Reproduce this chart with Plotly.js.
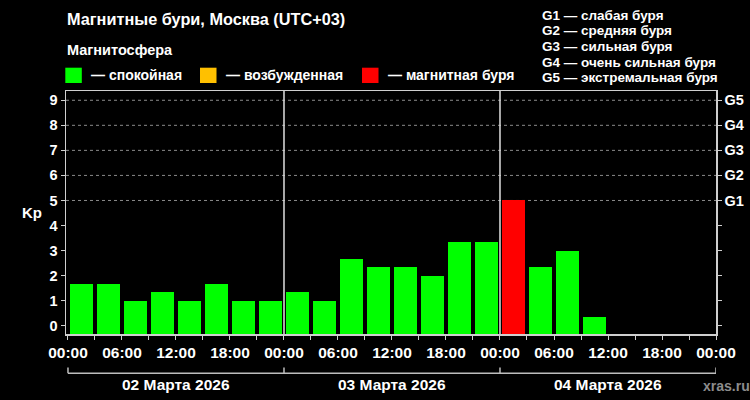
<!DOCTYPE html>
<html>
<head>
<meta charset="utf-8">
<script src="https://cdn.plot.ly/plotly-3.0.1.min.js"></script>
<style>html,body{margin:0;padding:0;background:#000;}#chart{width:750px;height:400px;}</style>
</head>
<body>
<div id="chart"></div>
<script>
// ---- data ----
const dayLabels = ['02 Марта 2026', '03 Марта 2026', '04 Марта 2026'];
const dayStartHours = [0, 24, 48, 72];
const slotStartHours = [0,3,6,9,12,15,18,21, 24,27,30,33,36,39,42,45, 48,51,54,57];
const kpValues = [1.67,1.67,1,1.33,1,1.67,1,1, 1.33,1,2.67,2.33,2.33,2,3.33,3.33, 5,2.33,3,0.33];
const hourTickVals = [0,3,6,9,12,15,18,21,24,27,30,33,36,39,42,45,48,51,54,57,60,63,66,69,72];
const hourTickText = ['00:00','','06:00','','12:00','','18:00','','00:00','','06:00','','12:00','','18:00','','00:00','','06:00','','12:00','','18:00','','00:00'];
const kpTicks = [0,1,2,3,4,5,6,7,8,9];
const stormLevels = ['G1','G2','G3','G4','G5'];
const stormKp = [5,6,7,8,9];
const stormDesc = ['слабая буря','средняя буря','сильная буря','очень сильная буря','экстремальная буря'];
const stateNames = ['спокойная','возбужденная','магнитная буря'];
const stateColors = ['#00ff00','#ffc000','#ff0000'];

// ---- layout helpers ----
const M = {l:66, r:34, t:91, b:66};
const W = 750, H = 400;
const PW = W - M.l - M.r, PH = H - M.t - M.b;
const px = p => (p - M.l) / PW;
const py = p => (H - M.b - p) / PH;
const yMin = -0.33, yMax = 9.37;
const boldFont = (size, color) => ({family: 'Liberation Sans, Arial, sans-serif', size: size, color: color || '#ffffff', weight: 700});

const barColors = kpValues.map(v => v >= 5 ? stateColors[2] : (v >= 4 ? stateColors[1] : stateColors[0]));

const traces = [
  {
    type: 'bar',
    x: slotStartHours.map(h => h + 1.5),
    y: kpValues.map(v => v - yMin),
    base: yMin,
    width: 2.64,
    marker: {color: barColors, line: {width: 0}},
    hoverinfo: 'skip',
    showlegend: false
  },
  {
    type: 'scatter', x: [null], y: [null], yaxis: 'y2', mode: 'markers',
    hoverinfo: 'skip', showlegend: false
  }
];

const shapes = [];
// storm-level dotted gridlines
stormKp.forEach(k => shapes.push({type:'line', xref:'paper', yref:'y', x0:0, x1:1, y0:k, y1:k,
  line:{color:'#8a8a8a', width:1, dash:'dot'}, layer:'below'}));
// day separators
dayStartHours.slice(1, -1).forEach(h => shapes.push({type:'line', xref:'x', yref:'paper', x0:h, x1:h, y0:0, y1:1,
  line:{color:'#e0e0e0', width:1.5}, layer:'above'}));
// date bracket
shapes.push({type:'line', xref:'x', yref:'paper', x0:dayStartHours[0], x1:dayStartHours[dayStartHours.length-1],
  y0:py(373.3), y1:py(373.3), line:{color:'#bdbdbd', width:1.5}});
dayStartHours.forEach(h => shapes.push({type:'line', xref:'x', yref:'paper', x0:h, x1:h, y0:py(367.5), y1:py(373.3),
  line:{color:'#bdbdbd', width:1.5}}));
// legend swatches
const swatchLeft = [65.3, 200, 362];
stateColors.forEach((c, i) => shapes.push({type:'rect', xref:'paper', yref:'paper',
  x0:px(swatchLeft[i]), x1:px(swatchLeft[i] + 16.5), y0:py(83), y1:py(67.7),
  fillcolor:c, line:{width:0}}));

const annotations = [];
annotations.push({text:'Магнитные бури, Москва (UTC+03)', xref:'paper', yref:'paper', x:px(65), y:py(19.5),
  xanchor:'left', yanchor:'middle', showarrow:false, font:boldFont(16.3)});
annotations.push({text:'Магнитосфера', xref:'paper', yref:'paper', x:px(65), y:py(50.5),
  xanchor:'left', yanchor:'middle', showarrow:false, font:boldFont(14.5)});
const legendTextLeft = [88.5, 223.5, 385.5];
stateNames.forEach((n, i) => annotations.push({text:'— ' + n, xref:'paper', yref:'paper', x:px(legendTextLeft[i]), y:py(75),
  xanchor:'left', yanchor:'middle', showarrow:false, font:boldFont(14)}));
const gLineY = [15, 30.8, 46.3, 62, 78];
stormLevels.forEach((g, i) => annotations.push({text:g + ' — ' + stormDesc[i], xref:'paper', yref:'paper', x:px(539.5), y:py(gLineY[i]),
  xanchor:'left', yanchor:'middle', showarrow:false, font:boldFont(13.5)}));
annotations.push({text:'Kp', xref:'paper', yref:'paper', x:px(31.5), y:0.5,
  xanchor:'center', yanchor:'middle', showarrow:false, font:boldFont(15)});
dayLabels.forEach((d, i) => annotations.push({text:d, xref:'x', yref:'paper',
  x:(dayStartHours[i] + dayStartHours[i+1]) / 2, y:py(384.5),
  xanchor:'center', yanchor:'middle', showarrow:false, font:boldFont(15.5)}));
annotations.push({text:'xras.ru', xref:'paper', yref:'paper', x:px(700.5), y:py(386),
  xanchor:'left', yanchor:'middle', showarrow:false, font:boldFont(14, '#8c8c8c')});

const layout = {
  width: W, height: H,
  margin: M,
  paper_bgcolor: '#000000',
  plot_bgcolor: '#000000',
  font: boldFont(14),
  showlegend: false,
  bargap: 0,
  xaxis: {
    range: [-0.22, 72], fixedrange: true,
    tickmode: 'array', tickvals: hourTickVals, ticktext: hourTickText,
    ticks: 'outside', ticklen: 4, tickwidth: 1, tickcolor: '#cfcfcf',
    tickfont: boldFont(15.5),
    showline: true, linecolor: '#cfcfcf', linewidth: 1.5, mirror: true,
    showgrid: false, zeroline: false
  },
  yaxis: {
    range: [yMin, yMax], fixedrange: true,
    tickmode: 'array', tickvals: kpTicks, ticktext: kpTicks.map(String),
    ticks: 'outside', ticklen: 4, tickwidth: 1, tickcolor: '#cfcfcf',
    tickfont: boldFont(14.5),
    showline: true, linecolor: '#cfcfcf', linewidth: 1.5,
    showgrid: false, zeroline: false
  },
  yaxis2: {
    overlaying: 'y', side: 'right', anchor: 'x',
    range: [yMin, yMax], fixedrange: true,
    tickmode: 'array', tickvals: kpTicks,
    ticktext: kpTicks.map(k => { const i = stormKp.indexOf(k); return i >= 0 ? stormLevels[i] : ''; }),
    ticks: 'outside', ticklen: 4, tickwidth: 1, tickcolor: '#cfcfcf',
    tickfont: boldFont(14.5),
    showline: true, linecolor: '#cfcfcf', linewidth: 1.5,
    showgrid: false, zeroline: false
  },
  shapes: shapes,
  annotations: annotations
};

Plotly.newPlot('chart', traces, layout, {displayModeBar: false, staticPlot: true});
</script>
</body>
</html>
